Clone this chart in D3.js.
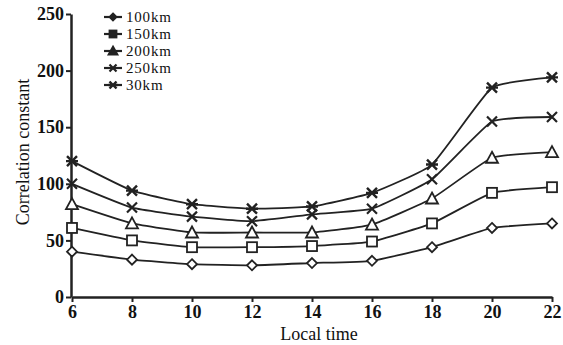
<!DOCTYPE html>
<html>
<head>
<meta charset="utf-8">
<script src="https://cdn.jsdelivr.net/npm/d3@7"></script>
<style>
  body { margin: 0; background: #fff; }
  svg { font-family: "Liberation Serif", "DejaVu Serif", serif; }
</style>
</head>
<body>
<div class="container"></div>
<script>
// local time (h)
const hours = [6, 8, 10, 12, 14, 16, 18, 20, 22];
const seriesNames = ["100km", "150km", "200km", "250km", "30km"];
const km100 = [40, 33, 29, 28, 30, 32, 44, 61, 65];
const km150 = [61, 50, 44, 44, 45, 49, 65, 92, 97];
const km200 = [82, 65, 57, 57, 57, 64, 87, 123, 128];
const km250 = [100, 79, 71, 67, 73, 78, 104, 155, 159];
const km30 = [120, 94, 82, 78, 80, 92, 117, 185, 194];
const yTicks = [0, 50, 100, 150, 200, 250];

const seriesValues = [km100, km150, km200, km250, km30];
const symbols = ["diamond", "square", "triangle", "cross", "star"];

const w = 563;
const h = 345;

const svg = d3.select(".container")
  .append("svg")
  .attr("width", w)
  .attr("height", h);

const xScale = d3.scaleLinear().domain([6, 22]).range([72, 552]);
const yScale = d3.scaleLinear().domain([0, 250]).range([297, 14]);

const ink = "#222";

// axes
const xAxis = d3.axisBottom(xScale).tickValues(hours).tickSize(5).tickSizeOuter(0).tickFormat(d3.format("d"));
const yAxis = d3.axisLeft(yScale).tickValues(yTicks).tickSize(5).tickSizeOuter(0);

const gx = svg.append("g")
  .attr("transform", "translate(0," + yScale(0) + ")")
  .call(xAxis);
const gy = svg.append("g")
  .attr("transform", "translate(" + (xScale(6) - 1) + ",0)")
  .call(yAxis);

[gx, gy].forEach(g => {
  g.select(".domain").attr("stroke", ink).attr("stroke-width", 2.5);
  g.selectAll(".tick line").attr("stroke", ink).attr("stroke-width", 2);
  g.selectAll(".tick text")
    .attr("fill", "#111")
    .style("font-size", "18px")
    .style("font-weight", "bold")
    .style("font-family", "Liberation Serif, serif");
});
gx.selectAll(".tick text").attr("y", 21).attr("dy", 0);
gy.selectAll(".tick text").attr("x", -7);

svg.append("text")
  .attr("x", 319)
  .attr("y", 340)
  .attr("text-anchor", "middle")
  .style("font-size", "18px")
  .attr("fill", "#111")
  .text("Local time");

svg.append("text")
  .attr("transform", "translate(29,152) rotate(-90)")
  .attr("text-anchor", "middle")
  .style("font-size", "18px")
  .attr("fill", "#111")
  .text("Correlation constant");

// marker drawing
function drawMarker(g, type, cx, cy, filled, r) {
  const fill = filled ? ink : "#fff";
  if (type === "diamond") {
    g.append("path")
      .attr("d", `M${cx},${cy - r}L${cx + r},${cy}L${cx},${cy + r}L${cx - r},${cy}Z`)
      .attr("fill", fill).attr("stroke", ink).attr("stroke-width", 1.8);
  } else if (type === "square") {
    g.append("rect")
      .attr("x", cx - r).attr("y", cy - r).attr("width", 2 * r).attr("height", 2 * r)
      .attr("fill", fill).attr("stroke", ink).attr("stroke-width", 1.8);
  } else if (type === "triangle") {
    g.append("path")
      .attr("d", `M${cx},${cy - r - 1}L${cx + r + 1},${cy + r}L${cx - r - 1},${cy + r}Z`)
      .attr("fill", fill).attr("stroke", ink).attr("stroke-width", 1.8);
  } else if (type === "cross") {
    g.append("path")
      .attr("d", `M${cx - r},${cy - r}L${cx + r},${cy + r}M${cx - r},${cy + r}L${cx + r},${cy - r}`)
      .attr("stroke", ink).attr("stroke-width", 2.2);
  } else {
    g.append("path")
      .attr("d", `M${cx - r},${cy - r}L${cx + r},${cy + r}M${cx - r},${cy + r}L${cx + r},${cy - r}M${cx - r - 1},${cy}L${cx + r + 1},${cy}`)
      .attr("stroke", ink).attr("stroke-width", 2.4);
  }
}

const line = d3.line()
  .x((d, i) => xScale(hours[i]))
  .y(d => yScale(d))
  .curve(d3.curveCardinal.tension(0.6));

seriesValues.forEach((vals, s) => {
  svg.append("path")
    .datum(vals)
    .attr("d", line)
    .attr("fill", "none")
    .attr("stroke", ink)
    .attr("stroke-width", 1.8);
  const g = svg.append("g");
  vals.forEach((v, i) => drawMarker(g, symbols[s], xScale(hours[i]), yScale(v), false, 5));
});

// legend
const legendY = [17, 34, 51, 68, 85];
const legend = svg.append("g");
seriesNames.forEach((name, i) => {
  const y = legendY[i];
  legend.append("line")
    .attr("x1", 104).attr("x2", 122).attr("y1", y).attr("y2", y)
    .attr("stroke", ink).attr("stroke-width", 2.2);
  drawMarker(legend, symbols[i], 113, y, true, 3.5);
  legend.append("text")
    .attr("x", 126).attr("y", y + 5)
    .style("font-size", "15px")
    .style("letter-spacing", "0.8px")
    .attr("fill", "#111")
    .text(name);
});
</script>
</body>
</html>
